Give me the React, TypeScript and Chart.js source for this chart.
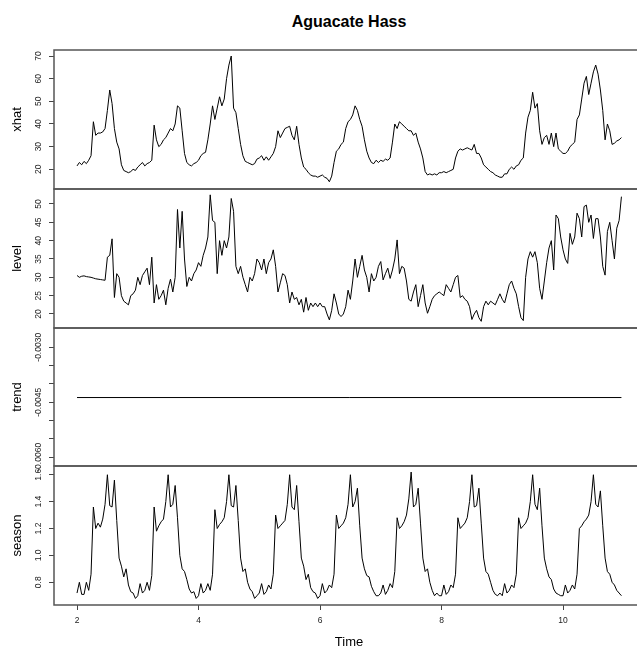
import React, { useEffect, useRef } from 'react';
import { Chart, registerables } from 'chart.js';

Chart.register(...registerables);

// ---- data (time series sampled every 1/26 of a unit, starting at time 2) ----
const START = 2;
const FREQ = 26;

const xhat = [
  21.5, 23, 22, 23.5, 22.5, 24, 26, 41, 35, 36, 36, 36.5, 38, 46, 55, 49, 38, 32, 29, 22, 19.5, 19, 18.5, 19, 20, 19.5,
  21, 22, 23, 21.5, 22.5, 23, 24, 39.5, 33, 30, 31, 33, 34, 36, 38, 37, 40, 48, 47, 37, 27, 23, 22, 21.5, 22.5, 23,
  24, 26, 27, 27.5, 33, 40, 48, 42, 47, 52, 48, 51, 60, 66, 70, 47, 45, 38, 31, 26, 23.5, 23, 22.5, 22, 22.5, 24.5,
  25, 26, 24, 25.5, 24, 25.5, 27, 30, 37, 34, 36, 38, 38.5, 39, 35, 33, 39, 31, 25, 21, 20, 18.5, 17.5, 17, 17, 16.5,
  17, 17.5, 16.5, 16, 14.5, 17, 23, 28, 29, 31, 32, 38, 41, 42, 44, 48, 46, 42, 39, 33, 28, 25, 23, 22.5, 24, 23,
  24, 23.5, 24.5, 24, 25, 32, 40, 38, 41, 40, 39, 38, 37, 37, 35, 36, 32, 29, 25, 19, 17.5, 18, 17.5, 18, 17.5, 18.5,
  18.5, 19, 18.5, 19, 19.5, 20, 25, 28, 29, 28.5, 29, 29.5, 29, 28.5, 31, 27, 27, 25, 22, 21, 20, 19, 18.5, 17.5, 17, 16.5,
  16.5, 18, 18, 20, 21, 20, 21.5, 22, 24, 25, 36, 43, 46, 54, 47, 49, 37, 31, 34, 35, 31, 36, 30, 36, 29, 28,
  27, 27, 28, 30, 31, 32, 42, 44, 51, 58, 61, 53, 58, 63, 66, 62, 55, 46, 33, 40, 37, 31, 31.5, 32.5, 33, 34,
];

const level = [
  30.5, 30, 30.3, 30.4, 30.2, 30.1, 30, 29.8, 29.6, 29.5, 29.4, 29.3, 29.2, 35.5, 36, 40.5, 24.5, 31, 30, 25, 23.5, 23, 22.5, 25, 25.5, 26.5,
  30, 28, 30.5, 31.5, 32.5, 28, 35.5, 23, 28, 24, 25, 26.5, 22.5, 27, 29.5, 26, 30, 48.5, 38, 48, 35, 27.5, 30, 29, 31, 32,
  34, 33, 36, 38, 41, 52.5, 45.5, 45, 31, 40, 36, 40, 38, 41, 51.5, 48, 33, 31, 33, 30, 28, 26, 30, 29, 31, 35,
  34, 32, 35, 31, 34, 35, 37.5, 33, 26, 28.5, 31, 30.5, 28, 23, 26, 24, 24.5, 22.5, 24, 20.5, 24.5, 21, 23, 22, 23, 22,
  23, 22, 22, 20, 18.4, 21, 25.5, 23, 20, 19.3, 20, 22, 26.5, 24, 29, 35, 30, 33, 36, 32, 30, 26, 31, 29, 30, 33,
  34.3, 29.3, 31, 32.5, 29.7, 32, 35, 40.2, 31, 33, 32.5, 29, 24, 23.5, 26, 28, 22, 25, 28, 23, 20.2, 22, 24, 25, 25.5, 26,
  25.5, 25, 28, 27, 26, 28, 30, 30.5, 24.5, 25, 24, 23.5, 22, 18.5, 20, 21, 19, 18, 22, 23.5, 22.5, 23.5, 23, 22.5, 24, 25.5,
  24, 23, 25.5, 28, 29, 27, 25.5, 22, 19, 18.2, 30, 35, 37, 35.5, 37, 34, 27, 24, 29, 34, 38, 40, 32, 47, 46, 41,
  37.5, 35, 33.8, 42, 39, 41, 47.5, 46, 41, 49.3, 49.7, 45, 47, 40.6, 46, 46, 41, 33, 30.6, 42.5, 45, 40, 35, 43.4, 45.5, 52,
];

const TREND = -0.00437;

const season = [
  0.72, 0.80, 0.71, 0.71, 0.80, 0.74, 0.86, 1.36, 1.20, 1.24, 1.21, 1.27, 1.38, 1.60, 1.37, 1.36, 1.56, 1.26, 0.98, 0.92, 0.84, 0.90, 0.78, 0.73, 0.72, 0.68,
  0.70, 0.79, 0.72, 0.74, 0.80, 0.74, 0.85, 1.36, 1.18, 1.22, 1.25, 1.27, 1.40, 1.60, 1.36, 1.38, 1.52, 1.28, 1.00, 0.90, 0.88, 0.82, 0.75, 0.72, 0.73, 0.68,
  0.70, 0.79, 0.72, 0.74, 0.79, 0.74, 0.86, 1.34, 1.20, 1.23, 1.25, 1.28, 1.40, 1.60, 1.37, 1.36, 1.52, 1.26, 0.98, 0.88, 0.90, 0.80, 0.75, 0.73, 0.68, 0.70,
  0.72, 0.79, 0.71, 0.73, 0.78, 0.75, 0.86, 1.30, 1.20, 1.22, 1.24, 1.26, 1.38, 1.60, 1.36, 1.34, 1.52, 1.25, 0.98, 0.92, 0.82, 0.86, 0.76, 0.73, 0.72, 0.68,
  0.70, 0.79, 0.72, 0.74, 0.78, 0.76, 0.86, 1.30, 1.20, 1.22, 1.24, 1.28, 1.38, 1.60, 1.36, 1.40, 1.50, 1.22, 0.98, 0.90, 0.85, 0.84, 0.77, 0.73, 0.70, 0.70,
  0.72, 0.78, 0.71, 0.74, 0.79, 0.76, 0.88, 1.28, 1.20, 1.22, 1.25, 1.30, 1.42, 1.62, 1.36, 1.38, 1.50, 1.24, 0.98, 0.88, 0.90, 0.80, 0.74, 0.70, 0.72, 0.70,
  0.70, 0.78, 0.71, 0.73, 0.78, 0.76, 0.86, 1.28, 1.20, 1.22, 1.24, 1.28, 1.40, 1.60, 1.36, 1.37, 1.50, 1.24, 0.98, 0.88, 0.86, 0.80, 0.74, 0.71, 0.70, 0.72,
  0.70, 0.79, 0.72, 0.74, 0.78, 0.76, 0.86, 1.28, 1.20, 1.22, 1.24, 1.28, 1.40, 1.60, 1.38, 1.34, 1.50, 1.22, 0.98, 0.90, 0.84, 0.82, 0.75, 0.72, 0.71, 0.70,
  0.70, 0.78, 0.72, 0.74, 0.78, 0.75, 0.86, 1.20, 1.22, 1.25, 1.27, 1.30, 1.40, 1.60, 1.38, 1.36, 1.48, 1.22, 0.98, 0.88, 0.86, 0.80, 0.78, 0.74, 0.72, 0.70,
];

// ---- ticks ----
const xTicks = [2, 4, 6, 8, 10];
const xhatTicks = [20, 30, 40, 50, 60, 70];
const xhatLabels = ['20', '30', '40', '50', '60', '70'];
const levelTicks = [20, 25, 30, 35, 40, 45, 50];
const levelLabels = ['20', '25', '30', '35', '40', '45', '50'];
const trendTicks = [-0.003, -0.0035, -0.004, -0.0045, -0.005, -0.0055, -0.006];
const trendLabels = ['-0.0030', '', '', '-0.0045', '', '', '-0.0060'];
const seasonTicks = [0.8, 1.0, 1.2, 1.4, 1.6];
const seasonLabels = ['0.8', '1.0', '1.2', '1.4', '1.6'];

const FONT = '"Liberation Sans", Arial, Helvetica, sans-serif';
const XMIN = 1.621;
const XMAX = 11.333;
const PAD = 20;
const CW = 660;

const toPoints = (arr: number[]) => arr.map((v, i) => ({ x: START + i / FREQ, y: v }));
const trendPoints = () => [
  { x: START, y: TREND },
  { x: START + (xhat.length - 1) / FREQ, y: TREND },
];

type Panel = {
  name: string;
  points: { x: number; y: number }[];
  min: number;
  max: number;
  ticks: number[];
  labels: string[];
  top: number;
  height: number;
  last: boolean;
};

const PANELS: Panel[] = [
  { name: 'xhat', points: toPoints(xhat), min: 11.31, max: 72.65, ticks: xhatTicks, labels: xhatLabels, top: 50, height: 139, last: false },
  { name: 'level', points: toPoints(level), min: 16.18, max: 54.09, ticks: levelTicks, labels: levelLabels, top: 189, height: 139, last: false },
  { name: 'trend', points: trendPoints(), min: -0.006237, max: -0.002474, ticks: trendTicks, labels: trendLabels, top: 328, height: 138, last: false },
  { name: 'season', points: toPoints(season), min: 0.631, max: 1.665, ticks: seasonTicks, labels: seasonLabels, top: 466, height: 139, last: true },
];

const X_AXIS_H = 50;

function canvasHeight(p: Panel) {
  return p.last ? PAD + p.height + X_AXIS_H : PAD * 2 + p.height;
}

function makeDeco(p: Panel) {
  return {
    id: 'panelDeco',
    afterDraw(chart: any) {
      const { ctx, chartArea: a } = chart;
      const ys = chart.scales.y;
      ctx.save();
      ctx.strokeStyle = '#555';
      ctx.lineWidth = 1.5;
      ctx.strokeRect(a.left, a.top, a.right - a.left, a.bottom - a.top);
      ctx.fillStyle = '#222';
      ctx.font = `8.5px ${FONT}`;
      ctx.textAlign = 'center';
      ctx.textBaseline = 'middle';
      p.ticks.forEach((v, i) => {
        const t = p.labels[i];
        if (!t) return;
        const y = ys.getPixelForValue(v);
        ctx.save();
        ctx.translate(39, y);
        ctx.rotate(-Math.PI / 2);
        ctx.fillText(t, 0, 0);
        ctx.restore();
      });
      ctx.restore();
    },
  };
}

function makeConfig(p: Panel): any {
  const xScale: any = {
    type: 'linear',
    min: XMIN,
    max: XMAX,
    display: p.last,
    afterBuildTicks: (s: any) => {
      s.ticks = xTicks.map((v) => ({ value: v }));
    },
    ticks: {
      padding: 6,
      color: '#222',
      font: { family: FONT, size: 8.5 },
      maxRotation: 0,
      callback: (v: number) => String(v),
    },
    grid: { display: true, drawOnChartArea: false, drawTicks: true, tickLength: 5, color: '#444' },
    border: { display: false },
    title: {
      display: true,
      text: 'Time',
      color: '#000',
      font: { family: FONT, size: 13 },
      padding: { top: 0, bottom: 5.2 },
    },
  };
  if (p.last) {
    xScale.afterFit = (s: any) => {
      s.height = X_AXIS_H;
    };
  }
  return {
    type: 'line',
    data: {
      datasets: [
        {
          data: p.points,
          borderColor: '#000',
          borderWidth: 1,
          pointRadius: 0,
          tension: 0,
          fill: false,
        },
      ],
    },
    options: {
      animation: false,
      responsive: false,
      events: [],
      layout: { padding: { top: PAD, bottom: p.last ? 0 : PAD, left: 0, right: CW - 644 } },
      plugins: { legend: { display: false }, tooltip: { enabled: false }, title: { display: false } },
      scales: {
        x: xScale,
        y: {
          type: 'linear',
          min: p.min,
          max: p.max,
          afterBuildTicks: (s: any) => {
            s.ticks = p.ticks.map((v) => ({ value: v }));
          },
          afterFit: (s: any) => {
            s.width = 54;
          },
          ticks: { display: false },
          grid: { display: true, drawOnChartArea: false, drawTicks: true, tickLength: 5, color: '#444' },
          border: { display: false },
          title: {
            display: true,
            text: p.name,
            color: '#000',
            font: { family: FONT, size: 13 },
            padding: { top: 9.2, bottom: 0 },
          },
        },
      },
    },
    plugins: [makeDeco(p)],
  };
}

export default function App() {
  const r0 = useRef<HTMLCanvasElement>(null);
  const r1 = useRef<HTMLCanvasElement>(null);
  const r2 = useRef<HTMLCanvasElement>(null);
  const r3 = useRef<HTMLCanvasElement>(null);
  const refs = [r0, r1, r2, r3];

  useEffect(() => {
    const charts = PANELS.map((p, i) => new Chart(refs[i].current as HTMLCanvasElement, makeConfig(p)));
    return () => charts.forEach((c) => c.destroy());
  }, []);

  return (
    <div
      style={{
        position: 'absolute',
        left: 0,
        top: 0,
        width: 637,
        height: 646,
        overflow: 'hidden',
        background: '#fff',
      }}
    >
      <div
        style={{
          position: 'absolute',
          left: 54,
          width: 590,
          top: 14,
          textAlign: 'center',
          fontFamily: FONT,
          fontWeight: 'bold',
          fontSize: 16,
          lineHeight: '16px',
          color: '#000',
        }}
      >
        Aguacate Hass
      </div>
      {PANELS.map((p, i) => (
        <canvas
          key={p.name}
          ref={refs[i]}
          width={CW}
          height={canvasHeight(p)}
          style={{
            position: 'absolute',
            left: 0,
            top: p.top - PAD,
            width: CW,
            height: canvasHeight(p),
          }}
        />
      ))}
    </div>
  );
}
